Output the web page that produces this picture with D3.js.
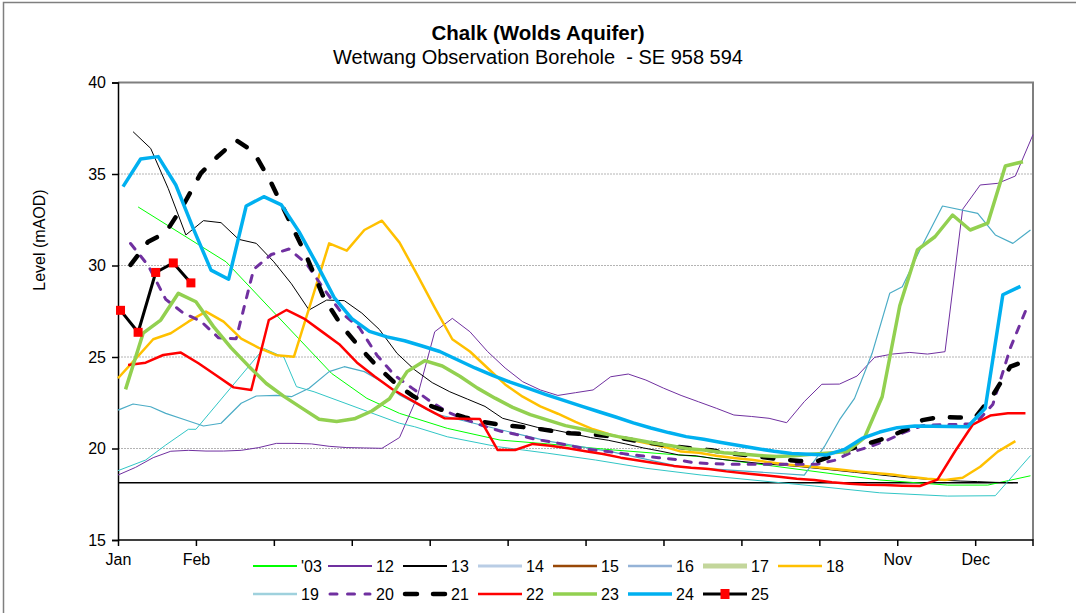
<!DOCTYPE html>
<html>
<head>
<meta charset="utf-8">
<script src="https://cdn.jsdelivr.net/npm/d3@7"></script>
<style>
  body { margin: 0; background: #fff; }
  svg text { font-family: "Liberation Sans", Arial, sans-serif; fill: #000; }
</style>
</head>
<body>
<div id="chart"></div>
<script>
// month labels sit every 31 days on a day-of-year axis
var monthLabels = ["Jan", "Feb", "Mar", "Apr", "May", "Jun", "Jul", "Aug", "Sep", "Oct", "Nov", "Dec"];
var monthDays = [0, 31, 62, 93, 124, 155, 186, 217, 248, 279, 310, 341];
var levelTicks = [15, 20, 25, 30, 35, 40];
var gridLevels = [20, 25, 30, 35];
var baseLevel = 18.13, baseDays = [0, 358];

// irregular readings (day, level)
var days03 = [8, 43, 85, 99, 112, 131, 152, 171, 197, 232, 263, 303, 330, 346, 363];
var level03 = [33.2, 30.2, 24.1, 22.74, 21.92, 21.1, 20.46, 20.25, 19.92, 19.55, 19.0, 18.28, 18.0, 18.0, 18.51];
var days14 = [0, 11, 19, 28, 31, 58, 66, 71, 78, 112, 118, 131, 151, 171, 190, 210, 232, 277, 303, 330, 349, 363];
var level14 = [18.79, 19.37, 20.19, 21.05, 21.05, 25.47, 24.98, 23.38, 23.1, 21.38, 21.19, 20.64, 20.1, 19.74, 19.37, 18.92, 18.55, 17.95, 17.58, 17.4, 17.42, 19.61];
var days19 = [0, 6, 13, 19, 26, 34, 41, 49, 55, 63, 69, 76, 84, 90, 98, 106, 112, 126, 144, 171, 197, 224, 251, 273, 281, 287, 293, 300, 307, 312, 319, 328, 342, 349, 356, 363];
var level19 = [22.1, 22.43, 22.28, 21.92, 21.6, 21.23, 21.38, 22.47, 22.87, 22.9, 22.83, 23.29, 24.2, 24.47, 24.2, 23.56, 22.92, 21.9, 21.3, 20.4, 19.8, 19.0, 18.75, 18.55, 20.1, 21.56, 22.74, 25.2, 28.48, 28.84, 30.85, 33.25, 32.85, 31.67, 31.21, 31.94];

// weekly readings (first day given in the series table)
var level12 = [18.55, 18.97, 19.5, 19.85, 19.9, 19.86, 19.86, 19.9, 20.05, 20.28, 20.28, 20.25, 20.12, 20.05, 20.03, 20.01, 20.6, 22.8, 26.38, 27.11, 26.38, 25.3, 24.4, 23.65, 23.2, 22.9, 23.05, 23.2, 23.92, 24.07, 23.74, 23.3, 22.9, 22.55, 22.2, 21.83, 21.75, 21.65, 21.41, 22.56, 23.51, 23.52, 23.96, 24.98, 25.16, 25.25, 25.16, 25.29, 33.07, 34.4, 34.49, 34.89, 37.15];
var level13 = [37.31, 36.4, 34.2, 31.67, 32.45, 32.34, 31.43, 31.21, 30.2, 29.0, 27.57, 28.11, 28.08, 27.4, 26.5, 25.2, 24.3, 23.6, 23.1, 22.7, 22.3, 21.65, 21.4, 21.15, 21.0, 20.8, 20.6, 20.45, 20.25, 20.03, 19.85, 19.65, 19.6, 19.45, 19.35, 19.25, 19.15, 19.08, 19.0, 18.9, 18.8, 18.7, 18.6, 18.5, 18.4, 18.33, 18.27, 18.22, 18.19, 18.15, 18.13];
var level18 = [23.84, 24.9, 25.97, 26.3, 26.93, 27.48, 26.93, 26.0, 25.5, 25.1, 25.02, 28.1, 31.21, 30.81, 31.94, 32.45, 31.25, 29.5, 27.7, 25.97, 25.3, 24.4, 23.5, 22.83, 22.3, 21.9, 21.45, 21.05, 20.75, 20.5, 20.3, 20.1, 19.83, 19.77, 19.6, 19.48, 19.38, 19.25, 19.12, 19.05, 18.95, 18.85, 18.75, 18.66, 18.58, 18.45, 18.35, 18.28, 18.4, 19.0, 19.83, 20.4];
var level20 = [31.2, 30.0, 28.15, 27.4, 26.95, 26.05, 26.0, 29.8, 30.6, 30.9, 30.1, 28.7, 27.4, 26.6, 25.1, 24.0, 23.3, 22.6, 22.0, 21.6, 21.25, 20.95, 20.75, 20.5, 20.35, 20.15, 19.95, 19.85, 19.72, 19.6, 19.5, 19.4, 19.22, 19.17, 19.14, 19.14, 19.14, 19.14, 19.14, 19.14, 19.35, 19.8, 20.1, 20.45, 20.9, 21.25, 21.3, 21.32, 21.35, 22.4, 25.5, 27.84];
var level21 = [30.03, 31.3, 31.8, 33.3, 35.05, 36.0, 36.85, 36.2, 34.5, 32.5, 30.5, 28.2, 26.7, 25.55, 24.5, 23.6, 22.9, 22.35, 22.0, 21.7, 21.45, 21.3, 21.2, 21.1, 20.95, 20.83, 20.78, 20.7, 20.55, 20.38, 20.24, 20.1, 20.0, 19.9, 19.75, 19.64, 19.52, 19.4, 19.32, 19.3, 19.65, 20.0, 20.3, 20.6, 21.0, 21.55, 21.72, 21.7, 21.7, 22.9, 24.47, 24.84];
var level22 = [24.56, 24.69, 25.11, 25.24, 24.66, 24.0, 23.34, 23.2, 27.02, 27.57, 27.1, 26.4, 25.7, 24.7, 23.95, 23.25, 22.7, 22.15, 21.65, 21.63, 21.61, 19.92, 19.92, 20.25, 20.15, 20.01, 19.85, 19.7, 19.5, 19.35, 19.2, 19.05, 18.95, 18.88, 18.75, 18.65, 18.55, 18.45, 18.35, 18.28, 18.15, 18.08, 18.02, 18.0, 17.97, 17.95, 18.3, 19.85, 21.3, 21.8, 21.92, 21.92];
var level23 = [23.23, 26.3, 27.02, 28.48, 28.02, 26.66, 25.5, 24.5, 23.55, 22.85, 22.22, 21.6, 21.47, 21.62, 22.05, 22.72, 24.2, 24.8, 24.51, 23.95, 23.3, 22.75, 22.25, 21.85, 21.55, 21.25, 21.05, 20.85, 20.65, 20.48, 20.3, 20.15, 19.98, 19.9, 19.77, 19.7, 19.62, 19.56, 19.6, 19.68, 19.76, 19.83, 20.6, 22.83, 27.8, 30.85, 31.57, 32.76, 31.94, 32.31, 35.44, 35.67];
var level24 = [34.31, 35.82, 35.95, 34.4, 32.0, 29.75, 29.25, 33.25, 33.76, 33.31, 31.85, 30.1, 28.25, 27.1, 26.4, 26.1, 25.89, 25.6, 25.3, 24.85, 24.4, 24.0, 23.63, 23.3, 22.96, 22.64, 22.33, 22.02, 21.72, 21.4, 21.12, 20.87, 20.65, 20.5, 20.33, 20.16, 20.0, 19.85, 19.73, 19.68, 19.65, 19.95, 20.55, 20.9, 21.14, 21.23, 21.22, 21.2, 21.19, 22.2, 28.4, 28.86];
var level25 = [27.55, 26.35, 29.62, 30.14, 29.05];

var series = [
    {name: "'03", days: days03, values: level03, color: "#00ff00", width: 1},
    {name: "12", start: 0, values: level12, color: "#7030a0", width: 1},
    {name: "13", start: 6, values: level13, color: "#000000", width: 1},
    {name: "14", days: days14, values: level14, color: "#31c6c6", width: 1, legendColor: "#b9cde5", legendWidth: 3},
    {name: "15", start: 0, values: [], color: "#984807", width: 2.5},
    {name: "16", start: 0, values: [], color: "#95b3d7", width: 2.5},
    {name: "17", start: 0, values: [], color: "#c3d69b", width: 5},
    {name: "18", start: 0, values: level18, color: "#ffc000", width: 2.5},
    {name: "19", days: days19, values: level19, color: "#4bacc6", width: 1.2, legendColor: "#9fd1dd", legendWidth: 2.5},
    {name: "20", start: 5, values: level20, color: "#7030a0", width: 3, dash: "7,9"},
    {name: "21", start: 5, values: level21, color: "#000000", width: 4.5, dash: "11,17"},
    {name: "22", start: 4, values: level22, color: "#ff0000", width: 2.5},
    {name: "23", start: 3, values: level23, color: "#92d050", width: 3.5},
    {name: "24", start: 2, values: level24, color: "#00b0f0", width: 3.5},
    {name: "25", start: 1, values: level25, color: "#000000", width: 3, marker: "#ff0000"}
];

var W = 1076, H = 613;
var plot = {left: 118, right: 1033, top: 82.5, bottom: 540};
var legendBox = {x: 246, y: 551, width: 625, height: 62};

var svg = d3.select("#chart").append("svg").attr("width", W).attr("height", H);

// outer chart border
svg.append("rect").attr("x", 3.5).attr("y", 2.5).attr("width", W + 10).attr("height", H + 10)
    .attr("fill", "#fff").attr("stroke", "#7f7f7f").attr("stroke-width", 1.5);

var x = d3.scaleLinear().domain([0, 364]).range([plot.left, plot.right]);
var y = d3.scaleLinear().domain([15, 40]).range([plot.bottom, plot.top]);

// title
svg.append("text").attr("x", 538).attr("y", 40).attr("text-anchor", "middle")
    .style("font-size", "20.5px").style("font-weight", "bold").text("Chalk (Wolds Aquifer)");
svg.append("text").attr("x", 538).attr("y", 64).attr("text-anchor", "middle")
    .style("font-size", "20px").style("white-space", "pre").text("Wetwang Observation Borehole  - SE 958 594");

// gridlines
svg.append("g").selectAll("line").data(gridLevels).enter().append("line")
    .attr("x1", plot.left).attr("x2", plot.right)
    .attr("y1", function(d) { return y(d); }).attr("y2", function(d) { return y(d); })
    .attr("stroke", "#b4b4b4").attr("stroke-width", 1).attr("stroke-dasharray", "2,1");

// top and right frame
svg.append("path").attr("d", "M" + plot.left + "," + plot.top + "H" + plot.right + "V" + plot.bottom)
    .attr("fill", "none").attr("stroke", "#7f7f7f").attr("stroke-width", 2);

// axes
var yAxis = d3.axisLeft(y).tickValues(levelTicks).tickSize(6).tickPadding(6);
var gy = svg.append("g").attr("transform", "translate(" + plot.left + ",0)").call(yAxis);
gy.select(".domain").attr("stroke", "#000").attr("stroke-width", 1.5);
gy.selectAll(".tick line").attr("stroke", "#000").attr("stroke-width", 1.5);
gy.selectAll("text").style("font-size", "16px").attr("font-family", null);

// month names under the legend box are hidden in the original
var xAxis = d3.axisBottom(x).tickValues(monthDays).tickSize(6).tickPadding(8)
    .tickFormat(function(d, i) {
        var px = x(d);
        return (px > legendBox.x && px < legendBox.x + legendBox.width) ? "" : monthLabels[i];
    });
var gx = svg.append("g").attr("transform", "translate(0," + plot.bottom + ")").call(xAxis);
gx.select(".domain").attr("stroke", "#000").attr("stroke-width", 1.5).attr("d", "M" + plot.left + ",0H" + plot.right + "V6");
gx.selectAll(".tick line").attr("stroke", "#000").attr("stroke-width", 1.5);
gx.selectAll("text").style("font-size", "16px").attr("font-family", null);

svg.append("text").attr("transform", "translate(45,240) rotate(-90)").attr("text-anchor", "middle")
    .style("font-size", "16px").text("Level (mAOD)");

// base level line
svg.append("line").attr("x1", x(baseDays[0])).attr("x2", x(baseDays[1]))
    .attr("y1", y(baseLevel)).attr("y2", y(baseLevel))
    .attr("stroke", "#000").attr("stroke-width", 1.5);

var line = d3.line().x(function(d) { return x(d[0]); }).y(function(d) { return y(d[1]); });

series.forEach(function(s) {
    s.points = s.values.map(function(v, i) { return [s.days ? s.days[i] : s.start + 7 * i, v]; });
    if (!s.points.length) return;
    svg.append("path").datum(s.points).attr("d", line)
        .attr("fill", "none").attr("stroke", s.color).attr("stroke-width", s.width)
        .attr("stroke-linejoin", "round").attr("stroke-linecap", s.dash ? "round" : "butt")
        .attr("stroke-dasharray", s.dash || null);
    if (s.marker) {
        svg.append("g").selectAll("rect").data(s.points).enter().append("rect")
            .attr("x", function(d) { return x(d[0]) - 4.5; }).attr("y", function(d) { return y(d[1]) - 4.5; })
            .attr("width", 9).attr("height", 9).attr("fill", s.marker);
    }
});

// legend
var legend = svg.append("g");
legend.append("rect").attr("x", legendBox.x).attr("y", legendBox.y)
    .attr("width", legendBox.width).attr("height", legendBox.height).attr("fill", "#fff");
series.forEach(function(s, i) {
    var row = i < 8 ? 0 : 1, col = i < 8 ? i : i - 8;
    var lx = 253 + 75 * col, ly = 566 + 28 * row;
    var g = legend.append("g").attr("transform", "translate(" + lx + "," + ly + ")");
    g.append("line").attr("x1", s.dash ? 2 : 0).attr("x2", s.dash ? 42 : 44)
        .attr("stroke", s.legendColor || s.color).attr("stroke-width", s.legendWidth || Math.max(s.width, 2))
        .attr("stroke-linecap", s.dash ? "round" : "butt")
        .attr("stroke-dasharray", s.name === "21" ? "12,16" : (s.name === "20" ? "7,10.5" : null));
    if (s.marker) g.append("rect").attr("x", 17.5).attr("y", -5).attr("width", 9).attr("height", 10).attr("fill", s.marker);
    g.append("text").attr("x", 48).attr("y", 6).style("font-size", "16px").text(s.name);
});
</script>
</body>
</html>
